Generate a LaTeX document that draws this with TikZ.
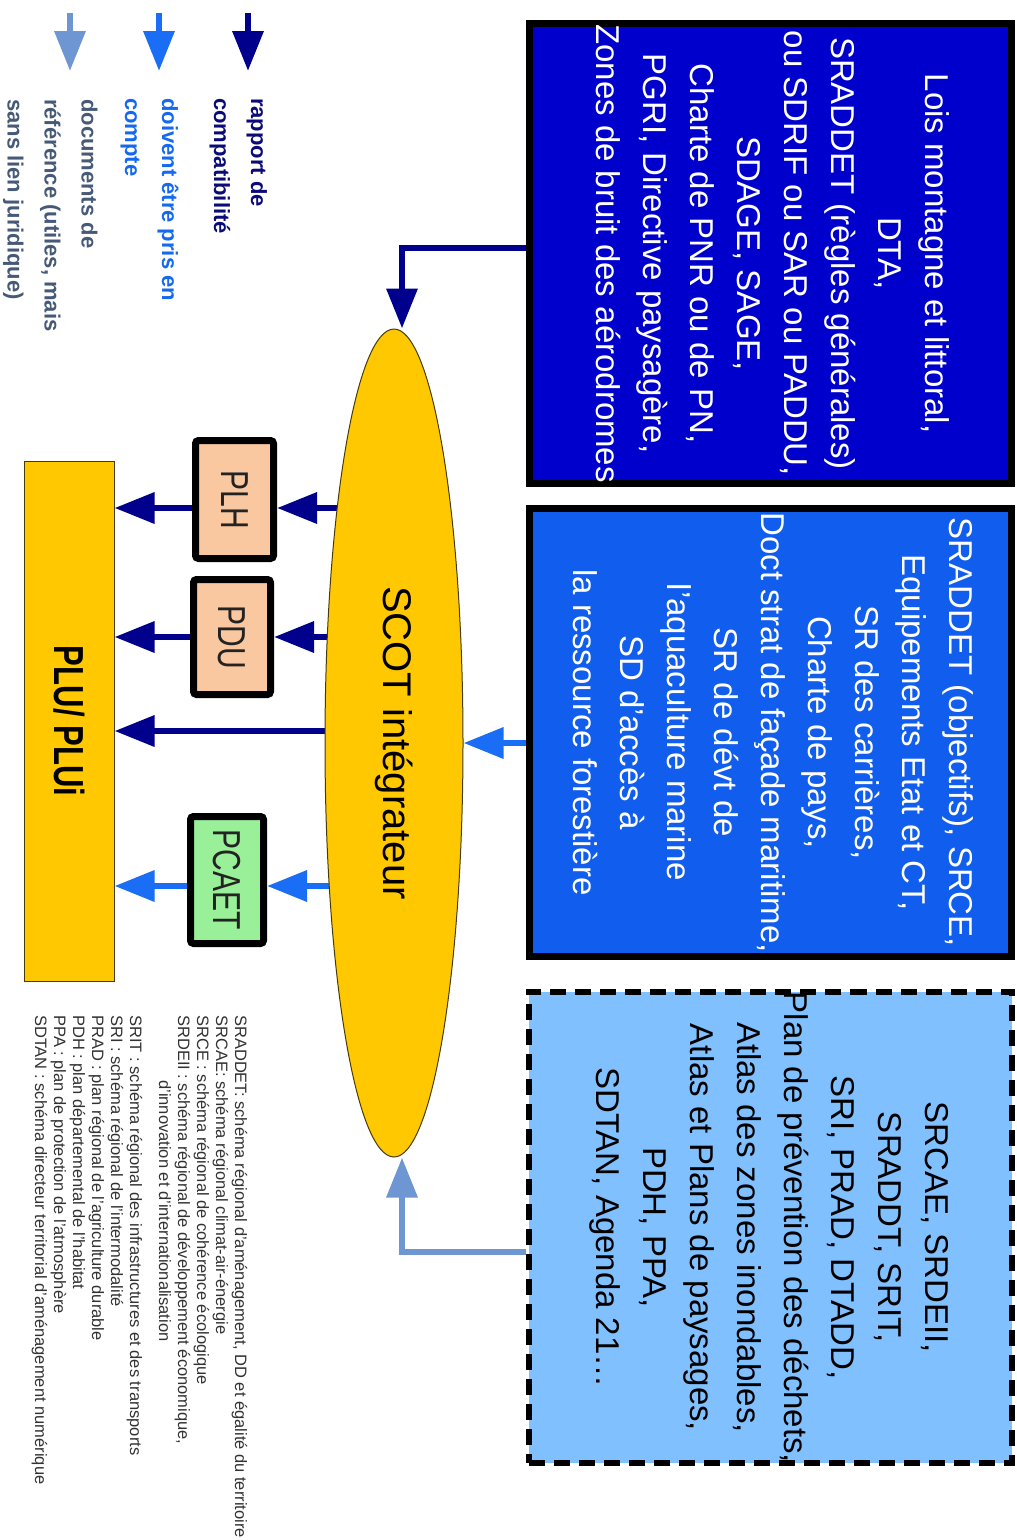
\documentclass[tikz,border=0pt]{standalone}
\usepackage{fontspec}
\setmainfont{Liberation Sans}
\newfontfamily\narrowfam[FakeStretch=0.77]{Liberation Sans}
\newfontfamily\narrowboldfam[FakeStretch=0.74]{Liberation Sans}
\usepackage{graphicx}
\usetikzlibrary{arrows.meta,shapes.geometric,calc}
\definecolor{cNavy}{RGB}{0,0,140}
\definecolor{cBlue}{RGB}{25,110,245}
\definecolor{cLight}{RGB}{110,150,210}
\definecolor{cBoxA}{RGB}{0,0,204}
\definecolor{cBoxB}{RGB}{17,94,238}
\definecolor{cBoxC}{RGB}{128,192,255}
\definecolor{cGold}{RGB}{255,200,0}
\definecolor{cPeach}{RGB}{250,200,160}
\definecolor{cGreen}{RGB}{153,240,153}
\definecolor{cOutline}{RGB}{70,60,10}
\definecolor{cTxtNavy}{RGB}{10,10,120}
\definecolor{cTxtBlue}{RGB}{20,105,240}
\definecolor{cTxtGray}{RGB}{70,90,120}
\definecolor{cNote}{RGB}{50,50,50}
\definecolor{cDark}{RGB}{35,35,35}
\newcommand\fntBox{\fontsize{33}{47}\selectfont}
\newcommand\fntScot{\fontsize{40}{48}\selectfont}
\newcommand\fntSmall{\narrowfam\fontsize{39}{46}\selectfont}
\newcommand\fntPlu{\narrowboldfam\bfseries\fontsize{42}{48}\selectfont}
\newcommand\fntLeg{\bfseries\fontsize{22}{37}\selectfont}
\newcommand\fntNote{\fontsize{16.5}{19}\selectfont}
\pgfdeclarelayer{background}
\pgfsetlayers{background,main}
\begin{document}
\begin{tikzpicture}[x=1pt,y=-1pt,
  arr/.style={line width=6.5pt,-{Triangle[width=30pt,length=40pt]}},
  compat/.style={arr,draw=cNavy},
  prise/.style={arr,draw=cBlue},
  refdoc/.style={arr,draw=cLight},
  bigbox/.style={line width=7pt,inner sep=0pt,minimum width=482pt},
  smallbox/.style={draw=black,line width=7pt,rounded corners=3pt,inner sep=0pt,text=cDark},
  gold/.style={draw=cOutline,line width=1pt,fill=cGold,inner sep=0pt,text=black},
  legend/.style={anchor=north,inner sep=0pt}]
\useasboundingbox (0,0) rectangle (1017,1540);
\clip (0,0) rectangle (1017,1540);

% big boxes
\node[bigbox,draw=black,fill=cBoxA,text=white,minimum height=460pt] (box1) at (770.5,253.5)
 {\rotatebox{-90}{\fntBox\begin{tabular}{@{}c@{}}Lois montagne et littoral,\\DTA,\\SRADDET (règles générales)\\ou SDRIF ou SAR ou PADDU,\\SDAGE, SAGE,\\Charte de PNR ou de PN,\\PGRI, Directive paysagère,\\Zones de bruit des aérodromes\end{tabular}}};
\node[bigbox,draw=black,fill=cBoxB,text=white,minimum height=448pt] (box2) at (770.5,732.5)
 {\rotatebox{-90}{\fntBox\begin{tabular}{@{}c@{}}SRADDET (objectifs), SRCE,\\Equipements Etat et CT,\\SR des carrières,\\Charte de pays,\\Doct strat de façade maritime,\\SR de dévt de\\l’aquaculture marine\\SD d’accès à\\la ressource forestière\end{tabular}}};
\node[bigbox,draw=black,line width=6pt,dash pattern=on 16pt off 9pt,fill=cBoxC,text=black,minimum width=483pt,minimum height=465pt] (box3) at (770.5,1227.5)
 {\rotatebox{-90}{\fntBox\begin{tabular}{@{}c@{}}SRCAE, SRDEII,\\SRADDT, SRIT,\\SRI, PRAD, DTADD,\\Plan de prévention des déchets,\\Atlas des zones inondables,\\Atlas et Plans de paysages,\\PDH, PPA,\\SDTAN, Agenda 21…\end{tabular}}};

% SCOT
\node[gold,ellipse,minimum width=138pt,minimum height=828pt] (ell) at (394,743)
 {\rotatebox{-90}{\fntScot SCOT intégrateur}};

% small boxes
\node[smallbox,fill=cPeach,minimum width=78pt,minimum height=118pt] (plh) at (234.5,499.5)
 {\rotatebox{-90}{\fntSmall PLH}};
\node[smallbox,fill=cPeach,minimum width=77pt,minimum height=115pt] (pdu) at (232,637)
 {\rotatebox{-90}{\fntSmall PDU}};
\node[smallbox,fill=cGreen,minimum width=73pt,minimum height=127pt] (pcaet) at (227,880)
 {\rotatebox{-90}{\fntSmall PCAET}};

% PLU
\node[gold,minimum width=90pt,minimum height=520pt] (plu) at (69,721)
 {\rotatebox{-90}{\fntPlu PLU/ PLUi}};

% helper coordinates
\coordinate (yplh) at ($(plh.west)+(0,8.5)$);
\coordinate (ymid) at (0,731);
\coordinate (ypc) at ($(pcaet.west)+(0,6)$);
\coordinate (a1) at ($(box1.west)+(0,-5.5)$);
\coordinate (e1) at ($(ell.north)+(8,0)$);
\coordinate (a3) at ($(box3.west)+(0,24.5)$);
\coordinate (e3) at ($(ell.south)+(8,0)$);

\begin{pgfonlayer}{background}
\fill[white] (0,0) rectangle (1017,1540);
\draw[compat] (a1) -| (e1);
\draw[prise] (box2.west |- ell.east) -- (ell.east);
\draw[refdoc] (a3) -| (e3);
\draw[compat] (yplh -| ell.center) -- (yplh -| plh.east);
\draw[compat] (yplh -| plh.west) -- (yplh -| plu.east);
\draw[compat] (pdu.east -| ell.center) -- (pdu.east);
\draw[compat] (pdu.west) -- (pdu.west -| plu.east);
\draw[compat] (ymid -| ell.center) -- (ymid -| plu.east);
\draw[prise] (ypc -| ell.center) -- (ypc -| pcaet.east);
\draw[prise] (ypc -| pcaet.west) -- (ypc -| plu.east);
\end{pgfonlayer}

% legend
\coordinate (l1s) at (248,13); \coordinate (l1e) at (248,71);
\coordinate (l2s) at (159,13); \coordinate (l2e) at (159,71);
\coordinate (l3s) at (70,13);  \coordinate (l3e) at (70,71);
\draw[compat] (l1s) -- (l1e);
\draw[prise] (l2s) -- (l2e);
\draw[refdoc] (l3s) -- (l3e);
\node[legend,text=cTxtNavy] (leg1) at (240,98)
 {\rotatebox{-90}{\fntLeg\begin{tabular}{@{}l@{}}rapport de\\compatibilité\end{tabular}}};
\node[legend,text=cTxtBlue] (leg2) at (151,98)
 {\rotatebox{-90}{\fntLeg\begin{tabular}{@{}l@{}}doivent être pris en\\compte\end{tabular}}};
\node[legend,text=cTxtGray] (leg3) at (52,99)
 {\rotatebox{-90}{\fntLeg\begin{tabular}{@{}l@{}}documents de\\référence (utiles, mais\\sans lien juridique)\end{tabular}}};

% notes
\node[legend,text=cNote] (notes) at (139,1015)
 {\rotatebox{-90}{\fntNote\begin{tabular}{@{}l@{}}SRADDET: schéma régional d'aménagement, DD et égalité du territoire\\
SRCAE: schéma régional climat-air-énergie\\
SRCE : schéma régional de cohérence écologique\\
SRDEII : schéma régional de développement économique,\\
\hspace*{65pt}d'innovation et d'internationalisation\\[10pt]
SRIT : schéma régional des infrastructures et des transports\\
SRI : schéma régional de l'intermodalité\\
PRAD : plan régional de l'agriculture durable\\
PDH : plan départemental de l'habitat\\
PPA : plan de protection de l'atmosphère\\
SDTAN : schéma directeur territorial d'aménagement numérique\end{tabular}}};
\end{tikzpicture}
\end{document}
